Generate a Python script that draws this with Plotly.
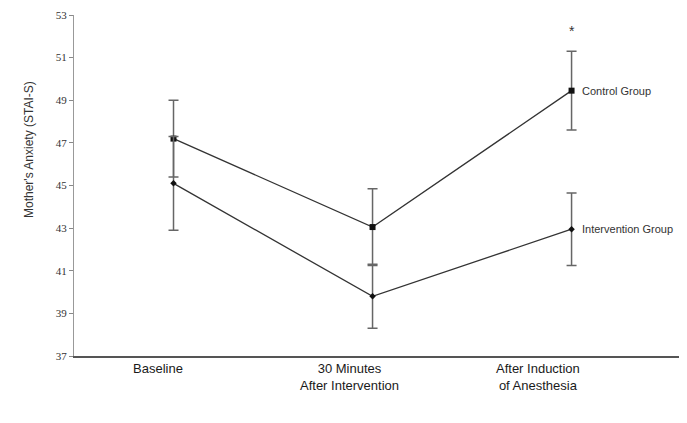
import plotly.graph_objects as go

categories = ["Baseline", "30 Minutes<br>After Intervention", "After Induction<br>of Anesthesia"]
control_mean = [47.2, 43.05, 49.45]
control_err = [1.8, 1.8, 1.85]
intervention_mean = [45.1, 39.8, 42.95]
intervention_err = [2.2, 1.5, 1.7]
y_ticks = [37, 39, 41, 43, 45, 47, 49, 51, 53]
x_label_shift = [-16, -23, -34]

xs = list(range(len(categories)))
line_col = "#333333"
err_col = "#666666"

fig = go.Figure()
fig.add_trace(go.Scatter(
    x=xs, y=control_mean, mode="lines+markers",
    line=dict(color=line_col, width=1.3),
    marker=dict(symbol="square", size=6, color="#111111"),
    error_y=dict(type="data", array=control_err, color=err_col, thickness=1.5, width=5),
    showlegend=False, name="Control Group"))
fig.add_trace(go.Scatter(
    x=xs, y=intervention_mean, mode="lines+markers",
    line=dict(color=line_col, width=1.3),
    marker=dict(symbol="diamond", size=5, color="#111111"),
    error_y=dict(type="data", array=intervention_err, color=err_col, thickness=1.5, width=5),
    showlegend=False, name="Intervention Group"))

annotations = []
for i, lab in enumerate(categories):
    annotations.append(dict(x=xs[i], y=0, xref="x", yref="paper", text=lab,
                            showarrow=False, xshift=x_label_shift[i], yanchor="top", yshift=-3,
                            font=dict(family="Liberation Sans, Arial", size=13, color="#1a1a1a")))
annotations.append(dict(x=2, y=control_mean[2], xref="x", yref="y", text="Control Group",
                        showarrow=False, xanchor="left", xshift=8,
                        font=dict(family="Liberation Sans, Arial", size=11, color="#333333")))
annotations.append(dict(x=2, y=intervention_mean[2], xref="x", yref="y", text="Intervention Group",
                        showarrow=False, xanchor="left", xshift=8,
                        font=dict(family="Liberation Sans, Arial", size=11, color="#333333")))
annotations.append(dict(x=2, y=control_mean[2] + control_err[2], xref="x", yref="y", text="*",
                        showarrow=False, yanchor="bottom", yshift=10,
                        font=dict(family="Liberation Sans, Arial", size=14, color="#333333")))
annotations.append(dict(x=(20 - 74) / 613, y=(356 - 150) / 341, xref="paper", yref="paper",
                        text="Mother's Anxiety (STAI-S)", showarrow=False, textangle=-90,
                        font=dict(family="Liberation Sans, Arial", size=12, color="#333333")))

fig.update_layout(
    width=679, height=415,
    margin=dict(l=66, r=0, t=7, b=67),
    paper_bgcolor="white", plot_bgcolor="white",
    xaxis=dict(range=[-0.5, 2.58], showticklabels=False, ticks="", showgrid=False, zeroline=False,
               showline=True, linecolor="#555555", linewidth=1.5),
    yaxis=dict(range=[37, 53], tickvals=y_ticks, ticks="outside", ticklen=4, tickcolor="#888888",
               showgrid=False, zeroline=False, showline=True, linecolor="#999999", linewidth=1.2,
               tickfont=dict(family="Liberation Serif, Times New Roman", size=11, color="#333333")),
    annotations=annotations,
)
fig.write_html("out.html")
